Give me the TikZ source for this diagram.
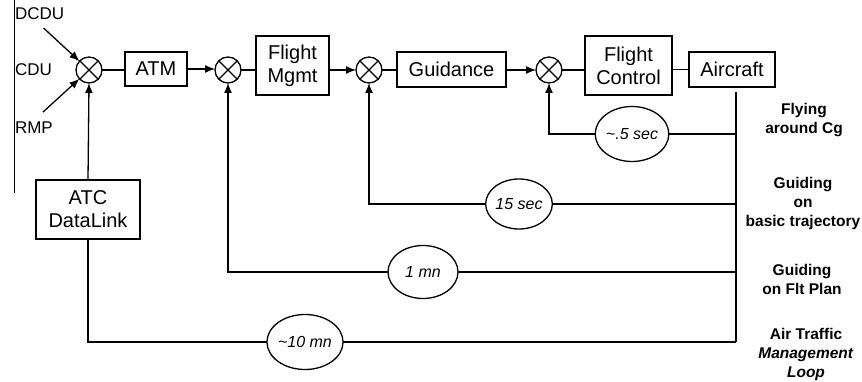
\documentclass[tikz,border=0pt]{standalone}
\usepackage{fontspec}
\setmainfont{Liberation Sans}
\usetikzlibrary{arrows.meta,shapes.geometric}
\begin{document}
\begin{tikzpicture}[x=1pt,y=-1pt,
  every node/.style={inner sep=0pt, outer sep=0pt},
  ln/.style={line width=1.3pt},
  arr/.style={ln,-{Latex[length=10pt,width=8pt]}},
  blk/.style={draw,ln,align=center,font=\fontsize{20}{23}\selectfont},
  sumj/.style={draw,ln,circle,minimum size=26pt},
  dly/.style={draw,ln,ellipse,font=\fontsize{16}{18}\selectfont\itshape},
  side/.style={align=center,font=\fontsize{15.5}{19}\selectfont\bfseries},
  src/.style={anchor=west,font=\fontsize{17}{19}\selectfont}]
\useasboundingbox (0,0) rectangle (862,382);
% left edge line
\coordinate (lt) at (14,0);
\coordinate (lb) at (14,193);
\draw[line width=1pt] (lt) -- (lb);
% source labels
\node[src] (dcdu) at (15,14) {DCDU};
\node[src] (cdu) at (15,70) {CDU};
\node[src] (rmp) at (15,128) {RMP};
% junctions
\node[sumj] (j1) at (89,70) {};
\node[sumj] (j2) at (228,70) {};
\node[sumj] (j3) at (369,70) {};
\node[sumj] (j4) at (549,70) {};
\foreach \j in {j1,j2,j3,j4} {\draw[ln] (\j.45) -- (\j.225) (\j.135) -- (\j.315);}
% blocks
\node[blk,minimum width=62pt,minimum height=34pt] (atm) at (156,69) {ATM};
\node[blk,minimum width=73pt,minimum height=59pt] (fm) at (292.5,65.5) {Flight\\Mgmt};
\node[blk,minimum width=109pt,minimum height=35pt] (gd) at (451.5,69.5) {Guidance};
\node[blk,minimum width=87pt,minimum height=59pt] (fc) at (628.5,65.5) {Flight\\Control};
\node[blk,minimum width=86pt,minimum height=35pt] (ac) at (732,69.5) {Aircraft};
\node[blk,minimum width=104pt,minimum height=59pt] (atc) at (88,209.5) {ATC\\DataLink};
% delay ellipses
\node[dly,minimum width=73pt,minimum height=55pt] (e1) at (632,134) {\textasciitilde.5 sec};
\node[dly,minimum width=63pt,minimum height=50pt] (e2) at (519,204) {15 sec};
\node[dly,minimum width=70pt,minimum height=53pt] (e3) at (423,272) {1 mn};
\node[dly,minimum width=71pt,minimum height=55pt] (e4) at (305,342) {\textasciitilde10 mn};
% side labels
\node[side] (l1) at (804,120) {Flying\\around Cg};
\node[side] (l2) at (803,203) {Guiding\\on\\basic trajectory};
\node[side] (l3) at (802,279) {Guiding\\on Flt Plan};
\node[side] (l4) at (806,354) {Air Traffic\\\textit{Management}\\\textit{Loop}};
% input arrows
\draw[arr] ([shift={(4,8)}]dcdu.south) -- (j1);
\draw[arr] ([shift={(9,-10)}]rmp.north) -- (j1);
% forward path
\draw[ln] (j1.east) -- (j1.east -| atm.west);
\draw[arr] (atm.east) -- (atm.east -| j2.west);
\draw[ln] (j2.east) -- (j2.east -| fm.west);
\draw[arr] (fm.east |- j3) -- (j3.west);
\draw[ln] (j3.east) -- (j3.east -| gd.west);
\draw[arr] (gd.east |- j4) -- (j4.west);
\draw[ln] (j4.east) -- (j4.east -| fc.west);
\draw[ln] (fc.east |- ac) -- (ac.west);
% feedback bus
\coordinate (bt) at (736,92);
\coordinate (bb) at (736,342);
\draw[ln] (bt) -- (bb);
\draw[ln] (e1.east) -- (e1.east -| bt);
\draw[arr] (e1.west) -| (j4.south);
\draw[ln] (e2.east) -- (e2.east -| bt);
\draw[arr] (e2.west) -| (j3.south);
\draw[ln] (e3.east) -- (e3.east -| bt);
\draw[arr] (e3.west) -| (j2.south);
\draw[ln] (e4.east) -- (bb);
\draw[ln] (e4.west) -| (atc.south);
\draw[arr] (atc.north) -- (j1.south);
\end{tikzpicture}
\end{document}
